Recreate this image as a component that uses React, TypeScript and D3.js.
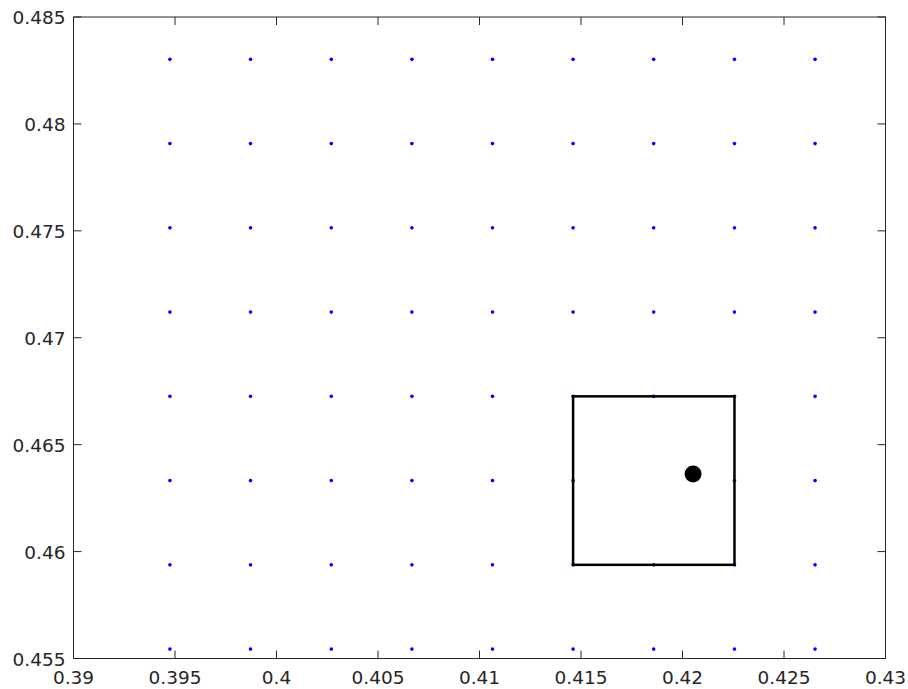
import React, { useRef, useEffect } from "react";
import * as d3 from "d3";

const gridX = [0.39475, 0.39872, 0.4027, 0.40667, 0.41064, 0.41461, 0.41858, 0.42256, 0.42653];
const gridY = [0.45544, 0.45938, 0.46332, 0.46726, 0.4712, 0.47514, 0.47908, 0.48302];
// grid point hidden in the reference (the cell centre)
const hidden: [number, number] = [0.41858, 0.46332];
const boxX = [0.41461, 0.42256];
const boxY = [0.45938, 0.46726];
const redPts: [number, number][] = [
  [0.42256, 0.46726],
  [0.41461, 0.46332],
  [0.42256, 0.46332],
  [0.41858, 0.45938],
];
const target: [number, number] = [0.42052, 0.46363];
const xTicks = [0.39, 0.395, 0.4, 0.405, 0.41, 0.415, 0.42, 0.425, 0.43];
const yTicks = [0.455, 0.46, 0.465, 0.47, 0.475, 0.48, 0.485];

const W = 908;
const H = 689;
const M = { left: 73.5, right: 885.5, top: 17, bottom: 658.5 };

export default function App() {
  const svgRef = useRef<SVGSVGElement>(null);

  useEffect(() => {
    if (!svgRef.current) return;
    const svg = d3.select(svgRef.current);
    svg.selectAll("*").remove();

    const x = d3.scaleLinear().domain([0.39, 0.43]).range([M.left, M.right]);
    const y = d3.scaleLinear().domain([0.455, 0.485]).range([M.bottom, M.top]);
    const axisColor = "#262626";
    const font = "DejaVu Sans, sans-serif";
    const fs = 18.5;

    svg.append("rect")
      .attr("x", M.left).attr("y", M.top)
      .attr("width", M.right - M.left).attr("height", M.bottom - M.top)
      .attr("fill", "white");

    // grid of points
    const pts: [number, number][] = [];
    gridY.forEach(gy => gridX.forEach(gx => {
      if (gx === hidden[0] && gy === hidden[1]) return;
      pts.push([gx, gy]);
    }));
    svg.selectAll(".pt")
      .data(pts)
      .enter()
      .append("circle")
      .attr("cx", d => x(d[0]))
      .attr("cy", d => y(d[1]))
      .attr("r", 1.8)
      .attr("fill", "#0000ff");

    svg.selectAll(".red")
      .data(redPts)
      .enter()
      .append("circle")
      .attr("cx", d => x(d[0]))
      .attr("cy", d => y(d[1]))
      .attr("r", 1.5)
      .attr("fill", "#ff0000");

    svg.append("rect")
      .attr("x", x(boxX[0]))
      .attr("y", y(boxY[1]))
      .attr("width", x(boxX[1]) - x(boxX[0]))
      .attr("height", y(boxY[0]) - y(boxY[1]))
      .attr("fill", "none")
      .attr("stroke", "black")
      .attr("stroke-width", 2.5);

    svg.append("circle")
      .attr("cx", x(target[0]))
      .attr("cy", y(target[1]))
      .attr("r", 8.5)
      .attr("fill", "black");

    // axes box
    svg.append("rect")
      .attr("x", M.left).attr("y", M.top)
      .attr("width", M.right - M.left).attr("height", M.bottom - M.top)
      .attr("fill", "none")
      .attr("stroke", axisColor)
      .attr("stroke-width", 1);

    const tl = 8;
    xTicks.forEach(t => {
      const px = x(t);
      svg.append("line").attr("x1", px).attr("x2", px).attr("y1", M.bottom).attr("y2", M.bottom - tl)
        .attr("stroke", axisColor);
      svg.append("line").attr("x1", px).attr("x2", px).attr("y1", M.top).attr("y2", M.top + tl)
        .attr("stroke", axisColor);
      svg.append("text")
        .attr("x", px).attr("y", M.bottom + 25)
        .attr("text-anchor", "middle")
        .attr("font-family", font).attr("font-size", fs)
        .attr("fill", axisColor)
        .text(d3.format("")(+t.toFixed(3)));
    });
    yTicks.forEach(t => {
      const py = y(t);
      svg.append("line").attr("x1", M.left).attr("x2", M.left + tl).attr("y1", py).attr("y2", py)
        .attr("stroke", axisColor);
      svg.append("line").attr("x1", M.right).attr("x2", M.right - tl).attr("y1", py).attr("y2", py)
        .attr("stroke", axisColor);
      svg.append("text")
        .attr("x", M.left - 8).attr("y", py + 7)
        .attr("text-anchor", "end")
        .attr("font-family", font).attr("font-size", fs)
        .attr("fill", axisColor)
        .text(d3.format("")(+t.toFixed(3)));
    });
  }, []);

  return (
    <svg
      ref={svgRef}
      width={W}
      height={H}
      style={{ position: "absolute", left: 0, top: 0, background: "white" }}
    />
  );
}
